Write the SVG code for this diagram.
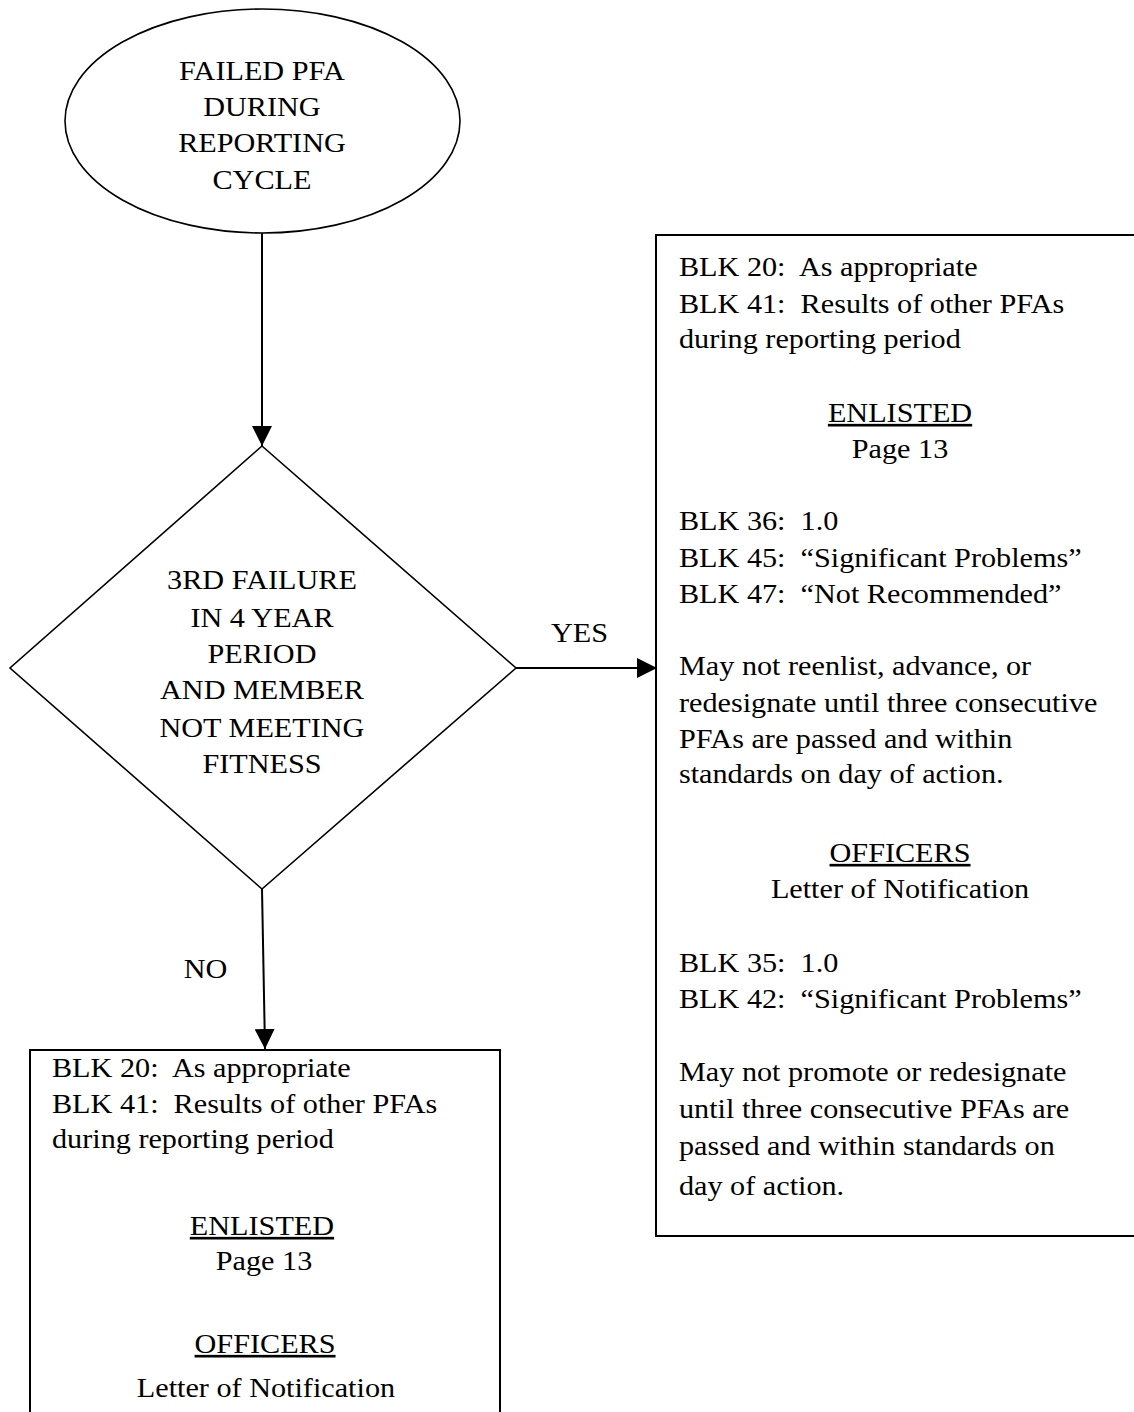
<svg xmlns="http://www.w3.org/2000/svg" width="1134" height="1412" viewBox="0 0 1134 1412">
<style>
  .t { font-family: "Liberation Serif", "Times New Roman", serif; font-size: 26.5px; fill: #000; white-space: pre; }
  .c { text-anchor: middle; }
  .u { text-decoration: underline; }
  .shape { fill: #fff; stroke: #000; }
  .edge { stroke: #000; stroke-width: 2; fill: none; }
</style>
<defs>
  <marker id="ah" markerWidth="21" markerHeight="21" refX="20" refY="10" orient="auto" markerUnits="userSpaceOnUse">
    <path d="M0,0 L20,10 L0,20 z" fill="#000"/>
  </marker>
</defs>
<rect x="0" y="0" width="1134" height="1412" fill="#fff"/>

<g id="connectors">
  <line class="edge" x1="262" y1="233" x2="262" y2="446" marker-end="url(#ah)"/>
  <line class="edge" x1="516" y1="668" x2="657" y2="668" marker-end="url(#ah)"/>
  <line class="edge" x1="262" y1="889" x2="265" y2="1049" marker-end="url(#ah)"/>
  <g transform="scale(1.14 1)">
    <text class="t c" x="508.3" y="642">YES</text>
    <text class="t c" x="180.3" y="978">NO</text>
  </g>
</g>

<g id="start">
  <ellipse class="shape" cx="262.5" cy="121" rx="197.5" ry="112" stroke-width="1.6"/>
  <g transform="scale(1.14 1)">
    <text class="t c" x="229.8" y="80">FAILED PFA</text>
    <text class="t c" x="229.8" y="116">DURING</text>
    <text class="t c" x="229.8" y="152">REPORTING</text>
    <text class="t c" x="229.8" y="189">CYCLE</text>
  </g>
</g>

<g id="decision">
  <polygon class="shape" points="262,446 516,668 262,889 10,668" stroke-width="1.6"/>
  <g transform="scale(1.14 1)">
    <text class="t c" x="229.8" y="589">3RD FAILURE</text>
    <text class="t c" x="229.8" y="627">IN 4 YEAR</text>
    <text class="t c" x="229.8" y="663">PERIOD</text>
    <text class="t c" x="229.8" y="699">AND MEMBER</text>
    <text class="t c" x="229.8" y="737">NOT MEETING</text>
    <text class="t c" x="229.8" y="773">FITNESS</text>
  </g>
</g>

<g id="yes-box">
  <rect class="shape" x="656" y="235" width="500" height="1001" stroke-width="2"/>
  <g transform="scale(1.14 1)">
    <text class="t" x="595.6" y="276">BLK 20:  As appropriate</text>
    <text class="t" x="595.6" y="313">BLK 41:  Results of other PFAs</text>
    <text class="t" x="595.6" y="348">during reporting period</text>
    <text class="t c u" x="789.5" y="422">ENLISTED</text>
    <text class="t c" x="789.5" y="458">Page 13</text>
    <text class="t" x="595.6" y="530">BLK 36:  1.0</text>
    <text class="t" x="595.6" y="567">BLK 45:  “Significant Problems”</text>
    <text class="t" x="595.6" y="603">BLK 47:  “Not Recommended”</text>
    <text class="t" x="595.6" y="675">May not reenlist, advance, or</text>
    <text class="t" x="595.6" y="712">redesignate until three consecutive</text>
    <text class="t" x="595.6" y="748">PFAs are passed and within</text>
    <text class="t" x="595.6" y="783">standards on day of action.</text>
    <text class="t c u" x="789.5" y="862">OFFICERS</text>
    <text class="t c" x="789.5" y="898">Letter of Notification</text>
    <text class="t" x="595.6" y="972">BLK 35:  1.0</text>
    <text class="t" x="595.6" y="1008">BLK 42:  “Significant Problems”</text>
    <text class="t" x="595.6" y="1081">May not promote or redesignate</text>
    <text class="t" x="595.6" y="1118">until three consecutive PFAs are</text>
    <text class="t" x="595.6" y="1155">passed and within standards on</text>
    <text class="t" x="595.6" y="1195">day of action.</text>
  </g>
</g>

<g id="no-box">
  <rect class="shape" x="30" y="1050" width="470" height="400" stroke-width="2"/>
  <g transform="scale(1.14 1)">
    <text class="t" x="45.6" y="1077">BLK 20:  As appropriate</text>
    <text class="t" x="45.6" y="1113">BLK 41:  Results of other PFAs</text>
    <text class="t" x="45.6" y="1148">during reporting period</text>
    <text class="t c u" x="229.8" y="1235">ENLISTED</text>
    <text class="t c" x="231.6" y="1270">Page 13</text>
    <text class="t c u" x="232.5" y="1353">OFFICERS</text>
    <text class="t c" x="233.3" y="1397">Letter of Notification</text>
  </g>
</g>
</svg>
